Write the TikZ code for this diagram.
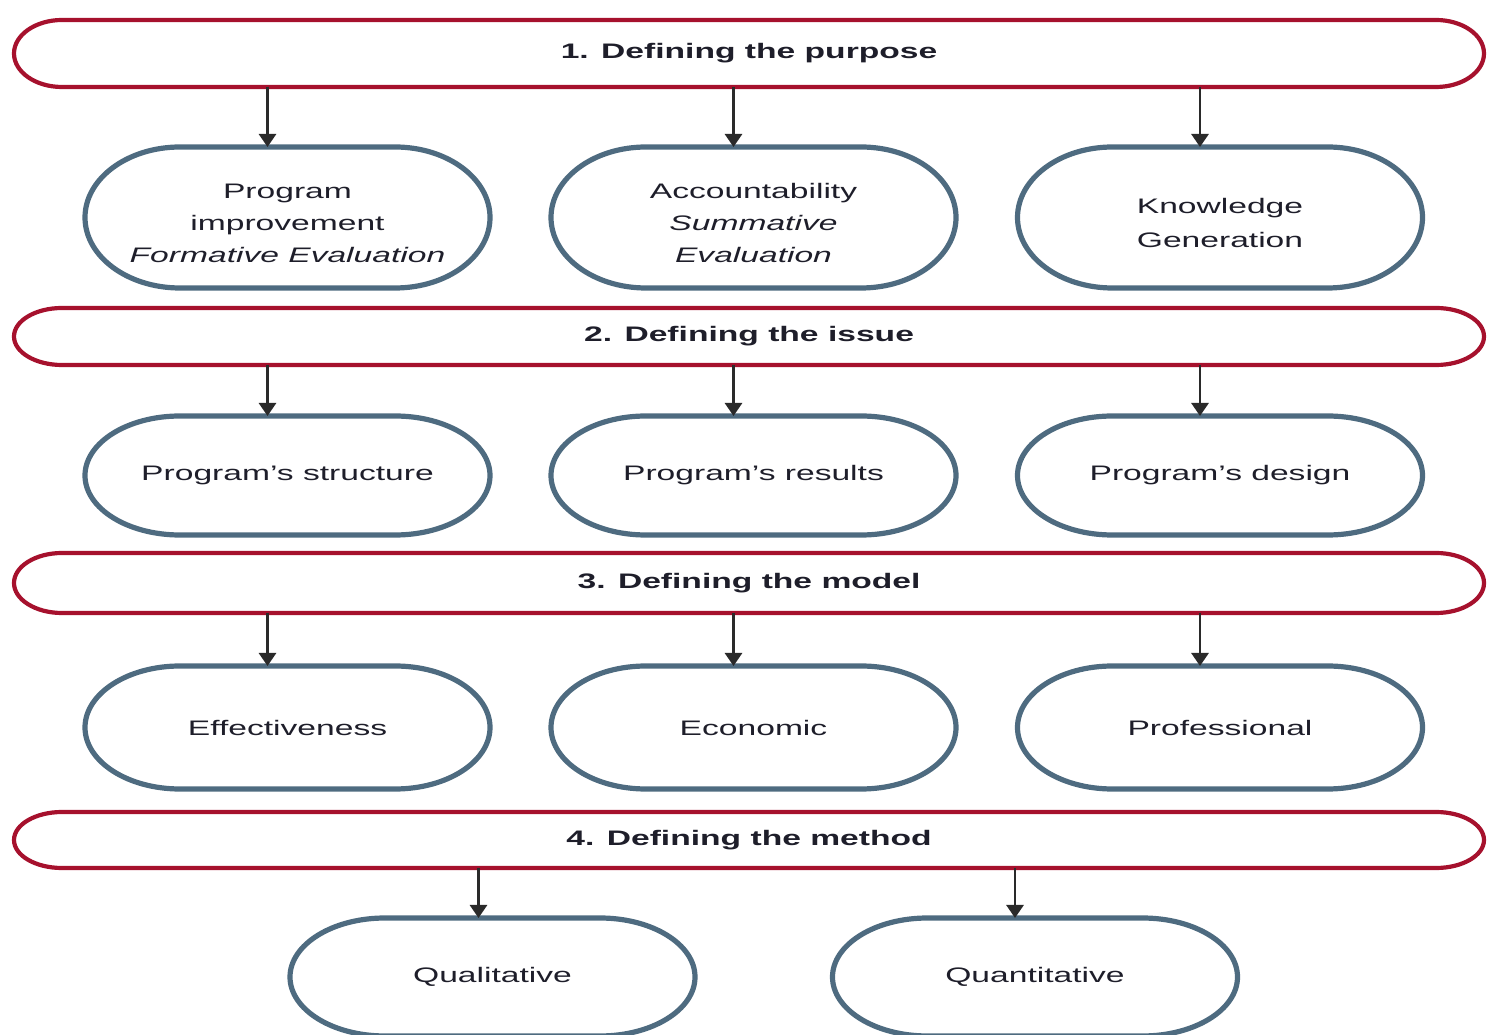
\documentclass[tikz,border=0pt]{standalone}
\usepackage{fontspec}
\setmainfont{Liberation Sans}
\usetikzlibrary{arrows.meta}
\definecolor{bandred}{HTML}{A6112D}
\definecolor{ovalblue}{HTML}{4E6B80}
\definecolor{inktext}{HTML}{1E1E2A}
\definecolor{arrowgray}{HTML}{2A2A2A}
% wide lettering, as in the original layout
\newcommand{\wide}[1]{\scalebox{1.6}[1]{#1}}
% stadium outline with elliptical ends around a rectangular node
% #1 node, #2 horizontal radius, #3 vertical radius, #4 style
\newcommand{\stadiumframe}[4]{%
  \draw[#4] ([xshift=#2]#1.north west) -- ([xshift=-#2]#1.north east)
    arc[start angle=90, end angle=-90, x radius=#2, y radius=#3]
    -- ([xshift=#2]#1.south west)
    arc[start angle=270, end angle=90, x radius=#2, y radius=#3] -- cycle;}
\begin{document}
\begin{tikzpicture}[x=0.5pt, y=0.5pt,
  txt/.style={font=\fontsize{10.5}{16}\selectfont, text=inktext, align=center},
  band/.style={txt, font=\fontsize{10.5}{16}\selectfont\bfseries, inner sep=0pt, outer sep=0pt, minimum width=735pt},
  oval/.style={txt, inner sep=0pt, outer sep=0pt, minimum width=202.5pt},
  lowtext/.style={label={[txt, yshift=-3pt]center:#1}},
  bandline/.style={draw=bandred, line width=2.1pt},
  ovalline/.style={draw=ovalblue, line width=2.6pt},
  arr/.style={draw=arrowgray, line width=1.4pt, -{Triangle[width=8.5pt,length=6.5pt]}}]
\useasboundingbox (0,0) rectangle (1489,1034);

% stage bands
\node[band, minimum height=33.5pt] (b1) at (749,980.5) {\wide{1. Defining the purpose}};
\node[band, minimum height=28.5pt] (b2) at (749,697.5) {\wide{2. Defining the issue}};
\node[band, minimum height=30pt]   (b3) at (749,451)   {\wide{3. Defining the model}};
\node[band, minimum height=28pt]   (b4) at (749,194)   {\wide{4. Defining the method}};
\stadiumframe{b1}{24pt}{16.75pt}{bandline}
\stadiumframe{b2}{24pt}{14.25pt}{bandline}
\stadiumframe{b3}{24pt}{15pt}{bandline}
\stadiumframe{b4}{24pt}{14pt}{bandline}

% purpose
\node[oval, minimum height=70.5pt,
  lowtext={\wide{Program}\\ \wide{improvement}\\ \wide{\itshape Formative Evaluation}}]
  (p1) at (287.5,816.5) {};
\node[oval, minimum height=70.5pt,
  lowtext={\wide{Accountability}\\ \wide{\itshape Summative}\\ \wide{\itshape Evaluation}}]
  (p2) at (753.5,816.5) {};
\node[oval, minimum height=70.5pt,
  lowtext={\wide{Knowledge}\\[1pt] \wide{Generation}}]
  (p3) at (1220,816.5) {};
% issue
\node[oval, minimum height=59.5pt] (i1) at (287.5,558.5) {\wide{Program’s structure}};
\node[oval, minimum height=59.5pt] (i2) at (753.5,558.5) {\wide{Program’s results}};
\node[oval, minimum height=59.5pt] (i3) at (1220,558.5)  {\wide{Program’s design}};
% model
\node[oval, minimum height=61.5pt] (m1) at (287.5,306.5) {\wide{Effectiveness}};
\node[oval, minimum height=61.5pt] (m2) at (753.5,306.5) {\wide{Economic}};
\node[oval, minimum height=61.5pt] (m3) at (1220,306.5)  {\wide{Professional}};
% method
\node[oval, minimum height=59pt] (q1) at (492.5,57) {\wide{Qualitative}};
\node[oval, minimum height=59pt] (q2) at (1035,57)  {\wide{Quantitative}};

\foreach \n/\ry in {p1/35.25pt,p2/35.25pt,p3/35.25pt,i1/29.75pt,i2/29.75pt,i3/29.75pt,
                    m1/30.75pt,m2/30.75pt,m3/30.75pt,q1/29.5pt,q2/29.5pt}
  {\stadiumframe{\n}{47.5pt}{\ry}{ovalline}}

% arrow targets on the top edge of each oval
\foreach \n in {p1,p2,p3,i1,i2,i3,m1,m2,m3,q2}
  {\coordinate (t\n) at ([xshift=-10pt]\n.north);}
\coordinate (tq1) at ([xshift=-7pt]q1.north);

% connectors
\foreach \b/\n in {b1/p1,b1/p2,b1/p3,b2/i1,b2/i2,b2/i3,b3/m1,b3/m2,b3/m3,b4/q1,b4/q2}
  {\draw[arr] (\b.south -| t\n) -- (t\n);}
\end{tikzpicture}
\end{document}
